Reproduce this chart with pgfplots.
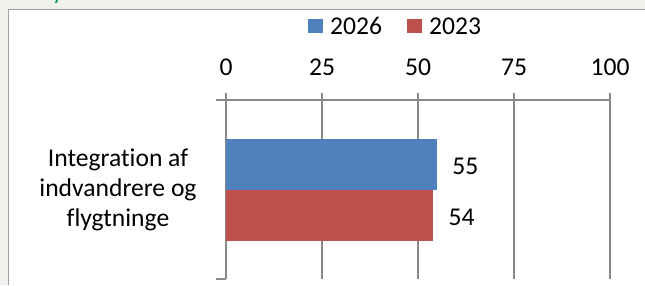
\documentclass[border=0pt]{standalone}
\usepackage{pgfplots}
\pgfplotsset{compat=1.18}
\usepackage{fontspec}
\setmainfont{Carlito}[Ligatures=NoCommon]
\definecolor{cblue}{HTML}{4F81BD}
\definecolor{cred}{HTML}{C0504D}
\definecolor{cgrid}{HTML}{898989}
\definecolor{bggrey}{HTML}{F0F0EC}
\definecolor{framec}{HTML}{A0A0A0}
\definecolor{tgreen}{HTML}{00A050}
\newcommand{\cf}{\fontsize{25.6}{30}\selectfont}
\begin{document}
\begin{tikzpicture}[x=1pt,y=1pt]
\path[use as bounding box] (0,0) rectangle (645,285);
\clip (0,0) rectangle (645,285);
\fill[bggrey] (0,0) rectangle (645,285);
\fill[white] (9,0) rectangle (645,275);
\draw[framec, line width=1.5pt] (8.5,0) -- (8.5,275.5) -- (645,275.5);
\node[tgreen, font=\cf, anchor=base west, inner sep=0pt] at (52,286) {y};
\node[font=\cf, align=center, anchor=center, inner sep=0pt] at (118,95) {Integration af\\indvandrere og\\flygtninge};
\begin{axis}[
  at={(226pt,6pt)}, anchor=south west, scale only axis,
  width=384pt, height=179pt,
  xmin=0, xmax=100, ymin=-0.5, ymax=0.5,
  enlargelimits=false, clip=false,
  xbar,
  axis x line*=top, axis y line*=left,
  axis line style={cgrid, line width=1.5pt, -},
  xtick={0,25,50,75,100},
  ytick={-0.5,0.5}, yticklabels={},
  tick align=outside,
  major tick length=10pt,
  x tick style={cgrid, line width=1.5pt, yshift=-3pt},
  y tick style={cgrid, line width=1.5pt},
  xmajorgrids, major grid style={cgrid, line width=1.5pt},
  /pgf/number format/assume math mode=true,
  xticklabel style={font=\cf, anchor=base, inner sep=0pt, yshift=15pt},
  nodes near coords,
  nodes near coords style={anchor=west, inner sep=0pt, xshift=15pt, yshift=-2pt, font=\cf, text=black},
  legend columns=2,
  legend image code/.code={\fill[#1] (0pt,-6pt) rectangle (15pt,8pt);},
  legend style={at={(0.2135,1.408)}, anchor=west, draw=none, fill=none, inner sep=0pt,
    nodes={inner sep=0pt, font=\cf},
    /tikz/every odd column/.style={column sep=7pt},
    /tikz/every even column/.style={column sep=25pt}},
]
\addplot[bar width=51pt, bar shift=25.5pt, fill=cblue, draw=none] coordinates {(55,0)};
\addplot[bar width=51pt, bar shift=-25.5pt, fill=cred, draw=none] coordinates {(54,0)};
\legend{2026,2023}
\end{axis}
\end{tikzpicture}
\end{document}
